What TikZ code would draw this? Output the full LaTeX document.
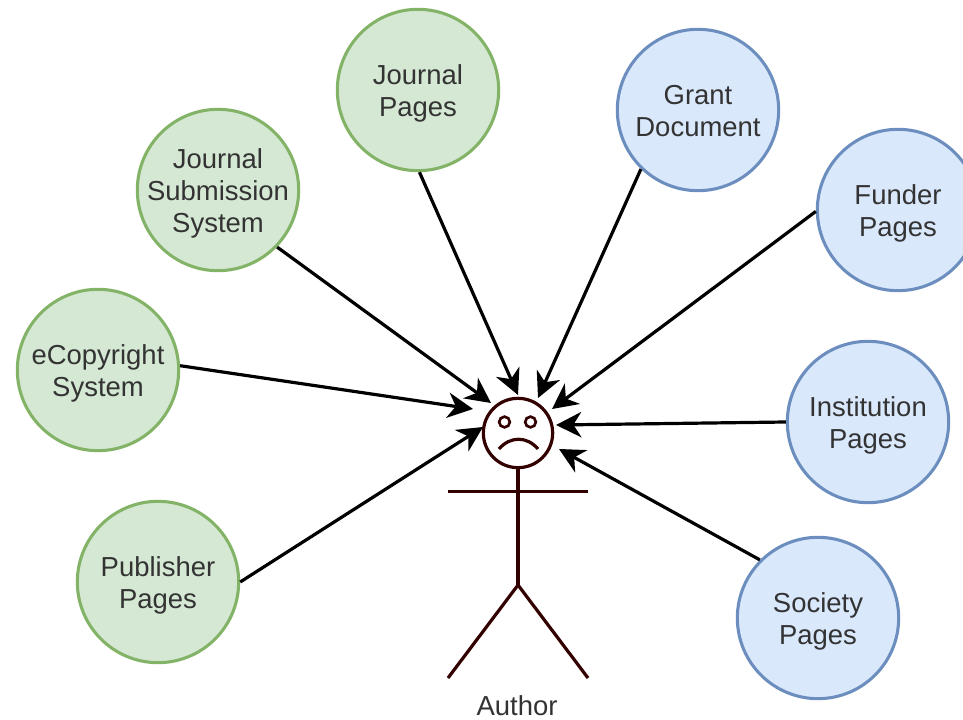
\documentclass[tikz,border=0pt]{standalone}
\usepackage{fontspec}
\setmainfont{Liberation Sans}
\usetikzlibrary{arrows.meta}
\definecolor{gfill}{HTML}{D5E8D4}\definecolor{gline}{HTML}{82B366}
\definecolor{bfill}{HTML}{DAE8FC}\definecolor{bline}{HTML}{6C8EBF}
\definecolor{man}{HTML}{330000}\definecolor{txt}{HTML}{333333}
\newcommand{\lowertext}{\rule{0pt}{20pt}}
\tikzset{x=0.75pt,y=-0.75pt,
 circ/.style={circle,minimum size=121pt,inner sep=-10pt,line width=2.3pt,align=center,font=\fontsize{20.6}{24}\selectfont,text=txt},
 green/.style={circ,draw=gline,fill=gfill},
 blue/.style={circ,draw=bline,fill=bfill},
 conn/.style={line width=2.4pt,black,-{Stealth[length=19pt,width=19pt,inset=6pt]}},
 fig/.style={line width=2.4pt,draw=man}}
\begin{document}
\begin{tikzpicture}
\useasboundingbox (0,0) rectangle (963,720);
\node[green] (jp) at (418,90) {\lowertext Journal\\Pages};
\node[green] (js) at (218,190) {\lowertext Journal\\Submission\\System};
\node[green] (ec) at (98,370) {\lowertext eCopyright\\System};
\node[green] (pp) at (158,582) {\lowertext Publisher\\Pages};
\node[blue] (gd) at (698,110) {\lowertext Grant\\Document\rule[-4.5pt]{0pt}{1pt}};
\node[blue] (fp) at (898,210) {\lowertext Funder\\Pages};
\node[blue] (ip) at (868,422) {\lowertext Institution\\Pages};
\node[blue] (sp) at (818,618) {\lowertext Society\\Pages};
\node[circle,draw=man,line width=2.4pt,minimum size=52pt,inner sep=0pt] (head) at (518,433) {};
\coordinate (hip) at (518,585);
\coordinate (la) at (448,491.5); \coordinate (ra) at (588,491.5);
\coordinate (lf) at (448,678); \coordinate (rf) at (588,678);
\draw[fig] (head.south) -- (hip);
\draw[fig] (la) -- (ra);
\draw[fig] (lf) -- (hip) -- (rf);
\node[circle,draw=man,line width=2pt,minimum size=8pt,inner sep=0pt] (eyel) at (504.5,422) {};
\node[circle,draw=man,line width=2pt,minimum size=8pt,inner sep=0pt] (eyer) at (530.5,422) {};
\coordinate (ml) at (499,449); \coordinate (mr) at (538,449);
\draw[line width=2.4pt,draw=man] (ml) .. controls (510,436) and (527,436) .. (mr);
\node[font=\fontsize{20.6}{24}\selectfont,text=txt,inner sep=0pt] (au) at (517,706) {Author};
\coordinate (t1) at (518,395);\coordinate (t2) at (538,398);\coordinate (t3) at (552,409);
\coordinate (t4) at (556,425);\coordinate (t5) at (559,449);\coordinate (t6) at (483,427);
\coordinate (t7) at (473,409);\coordinate (t8) at (491,403);
\draw[conn] (jp.271) -- (t1);
\draw[conn] (gd.226) -- (t2);
\draw[conn] (fp.181.4) -- (t3);
\draw[conn] (ip.180) -- (t4);
\draw[conn] (sp.135) -- (t5);
\draw[conn] (pp.0.7) -- (t6);
\draw[conn] (ec.3.5) -- (t7);
\draw[conn] (js.-44.5) -- (t8);
\end{tikzpicture}
\end{document}
